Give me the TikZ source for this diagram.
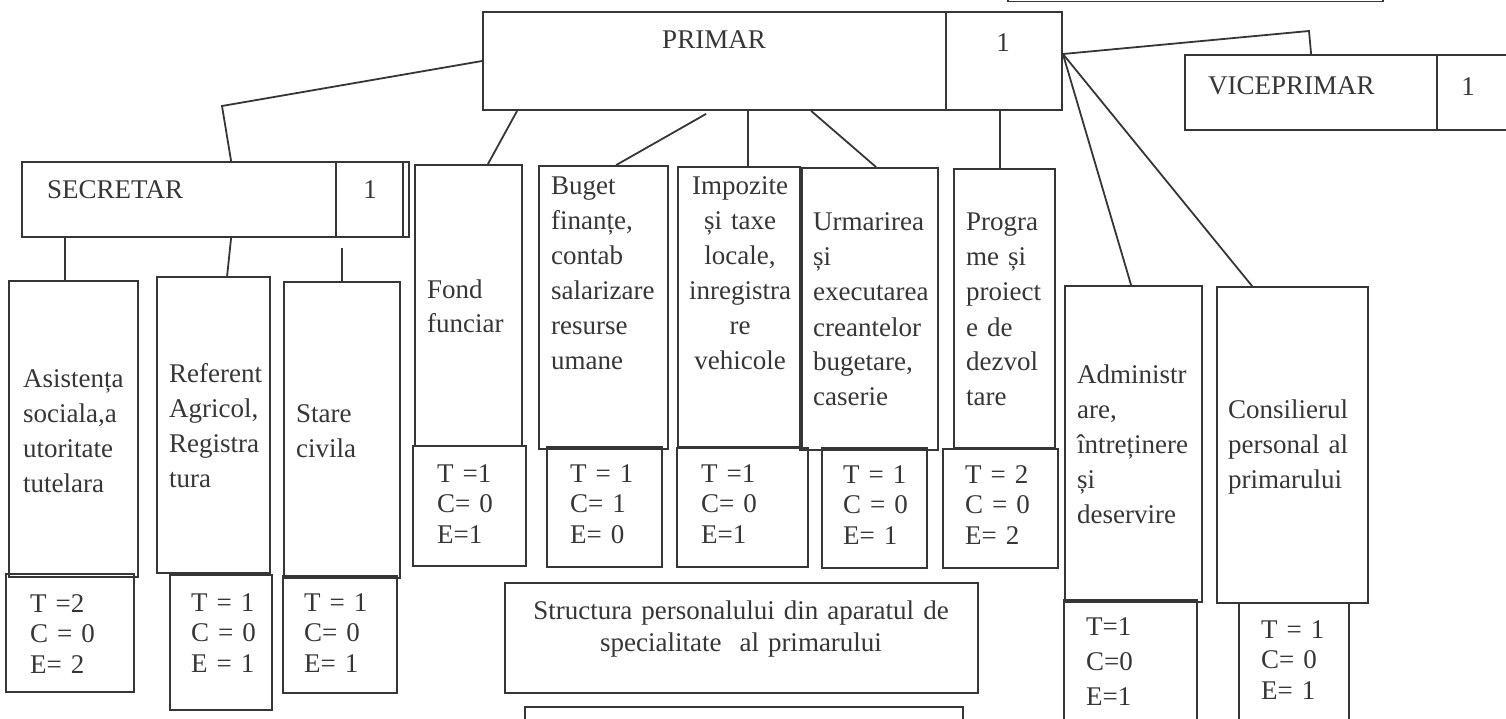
\documentclass[tikz,border=0pt]{standalone}
\usepackage{fontspec}
\setmainfont{Liberation Serif}
\definecolor{ink}{HTML}{363636}
\tikzset{
  box/.style={draw=ink, line width=1.8pt, inner sep=0pt, rectangle},
  lbl/.style={text=ink, inner sep=0pt, anchor=base west, align=left, text width=220pt, font=\fontsize{27}{35}\selectfont},
  clbl/.style={lbl, anchor=base, align=center},
  tce/.style={lbl, font=\fontsize{27}{30.5}\selectfont},
  conn/.style={draw=ink, line width=1.8pt},
}
\newcommand\drawbox[6][]{\node[box,#1,minimum width={(#5-#3)*1pt},minimum height={(#6-#4)*1pt}] (#2) at ({(#3+#5)/2},{(#4+#6)/2}) {};}
\begin{document}
\begin{tikzpicture}[x=1pt,y=-1pt]
\useasboundingbox (0,0) rectangle (1506,719);
\clip (0,0) rectangle (1506,719);

% top level
\drawbox{prev}{1008}{-60}{1383}{1.5}
\drawbox{primar}{483}{12}{1062}{110}
\draw[conn] ([xshift=-117pt]primar.north east) -- ([xshift=-117pt]primar.south east);
\node[clbl] (tprimar) at (714,49) {PRIMAR};
\node[clbl] (nprimar) at (1003,52) {1};

\drawbox{vice}{1185}{55}{1530}{130}
\draw[conn] ([xshift=253pt]vice.north west) -- ([xshift=253pt]vice.south west);
\node[lbl] (tvice) at (1208,95) {VICEPRIMAR};
\node[clbl] (nvice) at (1468,96) {1};

\drawbox{secretar}{22}{162}{409}{237}
\draw[conn] ([xshift=315pt]secretar.north west) -- ([xshift=315pt]secretar.south west);
\draw[conn] ([xshift=-7pt]secretar.north east) -- ([xshift=-7pt]secretar.south east);
\node[lbl] (tsecr) at (47,199) {SECRETAR};
\node[clbl] (nsecr) at (370,199) {1};

% secretar's departments
\drawbox{asist}{9}{281}{138}{577}
\drawbox{casistb}{6}{574}{134}{692}
\node[lbl] (tasist) at (23,387) {Asistența\\sociala,a\\utoritate\\tutelara};
\node[tce] (casist) at (30,612) {T =2\\C = 0\\E= 2};

\drawbox{refer}{157}{277}{270}{573}
\drawbox{creferb}{170}{575}{272}{710}
\node[lbl] (trefer) at (169,382) {Referent\\Agricol,\\Registra\\tura};
\node[tce] (crefer) at (191,611) {T = 1\\C = 0\\E = 1};

\drawbox{stare}{284}{282}{400}{578}
\drawbox{cstareb}{283}{576}{397}{693}
\node[lbl] (tstare) at (296,422) {Stare\\civila};
\node[tce] (cstare) at (304,611) {T = 1\\C= 0\\E= 1};

% primar's departments
\drawbox{fond}{415}{165}{522}{446}
\drawbox{cfondb}{413}{446}{526}{566}
\node[lbl] (tfond) at (427,298) {Fond\\funciar};
\node[tce] (cfond) at (437,482) {T =1\\C= 0\\E=1};

\drawbox{buget}{539}{166}{668}{449}
\drawbox{cbugetb}{547}{447}{662}{567}
\node[lbl] (tbuget) at (551,195) {Buget\\finanțe,\\contab\\salarizare\\resurse\\umane};
\node[tce] (cbuget) at (570,482) {T = 1\\C= 1\\E= 0};

\drawbox{impoz}{678}{167}{800}{447}
\drawbox{cimpozb}{677}{448}{808}{567}
\node[clbl] (timpoz) at (740,195) {Impozite\\și taxe\\locale,\\inregistra\\re\\vehicole};
\node[tce] (cimpoz) at (701,482) {T =1\\C= 0\\E=1};

\drawbox{urm}{802}{168}{938}{450}
\draw[ink, line width=3.5pt] (urm.north west) -- (urm.south west);
\drawbox{curmb}{822}{448}{927}{568}
\node[lbl] (turm) at (813,231) {Urmarirea\\și\\executarea\\creantelor\\bugetare,\\caserie};
\node[tce] (curm) at (843,483) {T = 1\\C = 0\\E= 1};

\drawbox{progr}{954}{169}{1055}{448}
\drawbox{cprogrb}{943}{449}{1058}{568}
\node[lbl] (tprogr) at (966,231) {Progra\\me și\\proiect\\e de\\dezvol\\tare};
\node[tce] (cprogr) at (965,483) {T = 2\\C = 0\\E= 2};

\drawbox{admin}{1065}{286}{1202}{602}
\drawbox{cadminb}{1064}{600}{1197}{740}
\node[lbl] (tadmin) at (1077,383) {Administr\\are,\\întreținere\\și\\deservire};
\node[lbl] (cadmin) at (1086,635) {T=1\\C=0\\E=1};

\drawbox{consil}{1217}{287}{1368}{603}
\drawbox{cconsilb}{1239}{603}{1349}{740}
\node[lbl] (tconsil) at (1228,418) {Consilierul\\personal al\\primarului};
\node[tce] (cconsil) at (1261,638) {T = 1\\C= 0\\E= 1};

% legend boxes
\drawbox{struct}{505}{583}{978}{693}
\node[clbl, text width=460pt, font=\fontsize{27}{32}\selectfont] (tstruct) at (741,619) {Structura personalului din aparatul de\\specialitate\ \ al primarului};
\drawbox{struct2}{525}{707}{963}{760}

% connectors
\coordinate (k1) at (222,106);
\draw[conn] (primar.west) -- (k1) -- ([xshift=210pt]secretar.north west);
\coordinate (pe) at ([yshift=7pt]primar.east);
\coordinate (k2) at (1309,31);
\draw[conn] (pe) -- (k2) -- ([xshift=127pt]vice.north west);
\draw[conn] (pe) -- ([xshift=67pt]admin.north west);
\draw[conn] (pe) -- ([xshift=36pt]consil.north west);

\draw[conn] ([xshift=35pt]primar.south west) -- ([xshift=-35pt]fond.north east);
\draw[conn] ([xshift=224pt,yshift=-3pt]primar.south west) -- ([xshift=78pt]buget.north west);
\draw[conn] ([xshift=9pt]impoz.north) -- ([xshift=9pt]impoz.north |- primar.south);
\draw[conn] ([xshift=329pt]primar.south west) -- ([xshift=75pt]urm.north west);
\draw[conn] ([xshift=-4.5pt]progr.north) -- ([xshift=-4.5pt]progr.north |- primar.south);

\draw[conn] ([xshift=-8.5pt]asist.north) -- ([xshift=-8.5pt]asist.north |- secretar.south);
\draw[conn] ([xshift=210pt]secretar.south west) -- ([xshift=71pt]refer.north west);
\draw[conn] (stare.north) -- ++(0,-33);
\end{tikzpicture}
\end{document}
